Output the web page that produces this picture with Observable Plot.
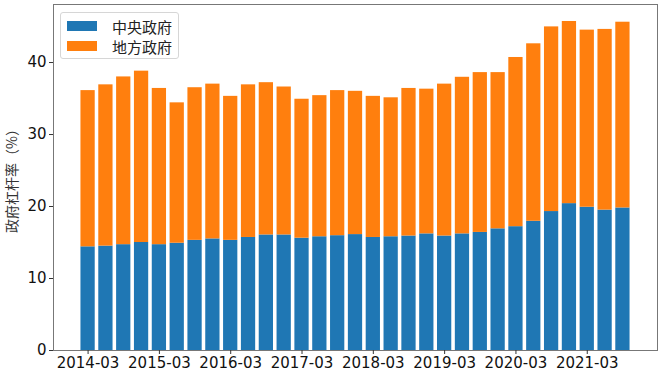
<!DOCTYPE html>
<html>
<head>
<meta charset="utf-8">
<script src="https://cdn.jsdelivr.net/npm/d3@7"></script>
<script src="https://cdn.jsdelivr.net/npm/@observablehq/plot@0.6"></script>
<style>
  html, body { margin: 0; padding: 0; background: #fff; }
  #wrap { position: relative; width: 668px; height: 377px; }
  .legend { position: absolute; left: 60px; top: 12px; width: 117px; height: 45px;
    border: 1px solid #d6d6d6; border-radius: 3px; background: rgba(255,255,255,0.85);
    font-family: "Noto Sans CJK SC", "DejaVu Sans", sans-serif; font-size: 15px; color: #222; }
  .item { position: absolute; left: 6px; height: 20px; display: flex; align-items: center; }
  .sw { width: 30px; height: 10px; margin-right: 15px; }
</style>
</head>
<body>
<div id="wrap"></div>
<script>
const quarters = [
  "2014-03","2014-06","2014-09","2014-12",
  "2015-03","2015-06","2015-09","2015-12",
  "2016-03","2016-06","2016-09","2016-12",
  "2017-03","2017-06","2017-09","2017-12",
  "2018-03","2018-06","2018-09","2018-12",
  "2019-03","2019-06","2019-09","2019-12",
  "2020-03","2020-06","2020-09","2020-12",
  "2021-03","2021-06","2021-09"
];
const central = [
  14.4, 14.5, 14.7, 15.0,
  14.7, 14.9, 15.3, 15.5,
  15.3, 15.7, 16.05, 16.05,
  15.6, 15.8, 15.95, 16.1,
  15.7, 15.8, 15.9, 16.2,
  15.9, 16.2, 16.4, 16.9,
  17.2, 17.95, 19.3, 20.4,
  19.9, 19.5, 19.8
];
const local = [
  21.7, 22.4, 23.3, 23.8,
  21.7, 19.5, 21.2, 21.5,
  20.0, 21.2, 21.15, 20.55,
  19.3, 19.6, 20.15, 19.9,
  19.6, 19.3, 20.5, 20.1,
  21.1, 21.75, 22.2, 21.7,
  23.5, 24.65, 25.65, 25.3,
  24.6, 25.1, 25.8
];
const seriesNames = ["中央政府", "地方政府"];
const seriesColors = ["#1f77b4", "#ff7f0e"];
const yTicks = [0, 10, 20, 30, 40];
const xTickLabels = ["2014-03","2015-03","2016-03","2017-03","2018-03","2019-03","2020-03","2021-03"];

const rows = [];
quarters.forEach((q, i) => {
  rows.push({q, s: seriesNames[0], v: central[i]});
  rows.push({q, s: seriesNames[1], v: local[i]});
});

const chart = Plot.plot({
  width: 668,
  height: 377,
  marginLeft: 53,
  marginRight: 11,
  marginTop: 4,
  marginBottom: 27,
  style: {fontFamily: "'DejaVu Sans', 'Noto Sans CJK SC', sans-serif", fontSize: "15px", color: "#111", background: "#fff"},
  x: {type: "band", domain: quarters, paddingInner: 0.2, paddingOuter: 1.54, round: false, axis: null},
  y: {domain: [0, 48.06], axis: null},
  color: {domain: seriesNames, range: seriesColors},
  marks: [
    Plot.barY(rows, Plot.stackY({order: seriesNames}, {x: "q", y: "v", fill: "s", inset: 0})),
    Plot.frame({stroke: "#777", strokeWidth: 1}),
    Plot.axisY({ticks: yTicks, tickSize: 4, tickPadding: 3, fontSize: 15, stroke: "#333",
      label: "政府杠杆率（%）", labelAnchor: "center", labelArrow: "none", labelOffset: 46}),
    Plot.axisX({ticks: xTickLabels, tickSize: 4, tickPadding: 3, fontSize: 15, stroke: "#333", label: null})
  ]
});
document.getElementById("wrap").appendChild(chart);

// CJK font for the y-axis title
chart.querySelectorAll('[aria-label="y-axis label"] text').forEach(t => {
  t.setAttribute("font-family", "'Noto Sans CJK SC', sans-serif");
  t.style.fontFamily = "'Noto Sans CJK SC', sans-serif";
  t.setAttribute("font-size", "14");
  t.setAttribute("fill", "#333");
});

const legend = document.createElement("div");
legend.className = "legend";
seriesNames.forEach((name, i) => {
  const it = document.createElement("div");
  it.className = "item";
  it.style.top = (3 + i * 20) + "px";
  const sw = document.createElement("div");
  sw.className = "sw";
  sw.style.background = seriesColors[i];
  const t = document.createElement("span");
  t.textContent = name;
  it.appendChild(sw); it.appendChild(t);
  legend.appendChild(it);
});
document.getElementById("wrap").appendChild(legend);
</script>
</body>
</html>
